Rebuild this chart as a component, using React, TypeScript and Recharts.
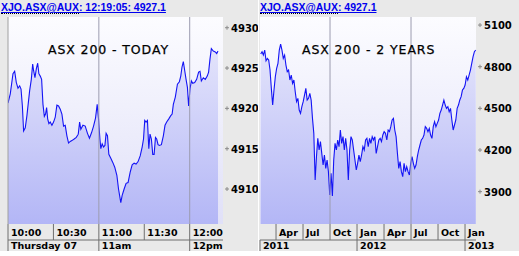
import React from 'react';
import { Area, AreaChart, CartesianGrid, ReferenceLine, XAxis, YAxis } from 'recharts';

// intraday: minutes after 10:00
const todayMinutes = [
  0, 1.5, 3.3, 4.4, 5.5, 6.6, 7.7, 8.6, 9.5, 10.3,
  11.4, 12.5, 14.3, 15.4, 16.3, 16.9, 17.8, 18.7, 19.6, 20.4,
  21.3, 22.2, 23.1, 24.0, 24.8, 25.5, 26.2, 27.0, 27.9, 29.0,
  30.1, 31.2, 32.3, 33.4, 34.5, 35.6, 36.7, 37.8, 38.9, 40.0,
  41.1, 42.2, 43.7, 45.1, 46.4, 47.3, 48.1, 49.5, 51.0, 52.5,
  53.8, 55.2, 56.5, 57.8, 58.9, 59.8, 60.7, 61.3, 62.2, 63.1,
  64.0, 64.8, 65.7, 66.6, 67.9, 69.2, 70.5, 71.9, 73.0, 74.5,
  75.4, 76.7, 78.0, 79.3, 80.7, 82.0, 83.3, 84.6, 85.9, 87.3,
  88.6, 89.5, 90.3, 91.2, 92.1, 93.0, 93.8, 94.7, 95.6, 96.5,
  97.4, 98.2, 99.1, 100.0, 101.3, 102.6, 103.7, 104.8, 106.2, 107.5,
  108.4, 109.2, 110.5, 111.9, 113.2, 114.1, 114.9, 115.8, 116.7, 117.6,
  118.5, 119.3, 120.2, 121.1, 122.0, 123.3, 124.6, 125.9, 126.8, 127.7,
  129.0, 130.3, 131.6, 132.5, 133.4, 134.3, 135.6, 136.9, 137.8, 138.7,
];
const todayValues = [
  4920.66, 4921.8, 4924.3, 4924.6, 4923.2, 4922.5, 4922.8, 4922.4, 4920.3, 4917.2,
  4917.6, 4919.1, 4922.2, 4923.6, 4925.5, 4924.7, 4923.8, 4924.9, 4925.6, 4924.3,
  4924.0, 4923.6, 4920.5, 4919.0, 4919.3, 4920.1, 4918.7, 4918.1, 4918.3, 4917.9,
  4918.3, 4918.9, 4920.4, 4920.3, 4919.9, 4919.3, 4917.8, 4917.9, 4916.6, 4915.7,
  4915.9, 4916.0, 4916.2, 4916.4, 4916.8, 4918.3, 4917.4, 4917.9, 4917.8, 4916.9,
  4916.3, 4917.0, 4917.8, 4918.8, 4920.5, 4918.7, 4916.2, 4915.0, 4915.6, 4915.2,
  4915.4, 4916.9, 4916.6, 4914.3, 4913.8, 4913.3, 4912.7, 4911.7, 4910.0, 4908.3,
  4909.2, 4910.0, 4910.7, 4910.8, 4912.1, 4913.0, 4913.2, 4913.1, 4913.4, 4914.1,
  4915.2, 4916.2, 4918.5, 4918.3, 4918.5, 4915.0, 4916.8, 4916.2, 4914.3, 4914.3,
  4916.4, 4916.2, 4915.5, 4915.4, 4915.5, 4916.6, 4917.9, 4918.3, 4918.7, 4919.1,
  4919.3, 4920.5, 4921.4, 4923.0, 4923.3, 4924.0, 4925.1, 4925.8, 4924.7, 4923.6,
  4922.6, 4920.3, 4922.4, 4923.4, 4923.1, 4923.2, 4923.6, 4924.5, 4924.6, 4923.4,
  4923.8, 4923.6, 4924.0, 4924.5, 4926.1, 4927.4, 4927.1, 4927.0, 4926.8, 4927.1,
];
const todayPriceTicks = [4910, 4915, 4920, 4925, 4930];
const todayTimeTicks = [0, 30, 60, 90, 120];
const todayTimeLabels = ['10:00', '10:30', '11:00', '11:30', '12:00'];
const todayDayTicks = [0, 60, 120];
const todayDayLabels = ['Thursday 07', '11am', '12pm'];
const todayGridLines = [60, 120];

// two years: months after Jan 2011, evenly spaced closes
const twoYearFirstMonth = 1.3;
const twoYearLastMonth = 25.19;
const twoYearValues = [
  4891, 4908, 4884, 4920, 4843, 4860, 4848, 4776, 4644, 4524,
  4632, 4728, 4788, 4824, 4920, 4963, 4920, 4860, 4884, 4812,
  4764, 4776, 4704, 4740, 4680, 4704, 4620, 4548, 4572, 4488,
  4464, 4512, 4548, 4596, 4644, 4560, 4572, 4608, 4560, 4428,
  4320, 3984, 4152, 4284, 4200, 4260, 4176, 4092, 4164, 4068,
  4128, 4044, 3876, 4032, 3869, 4128, 4248, 4200, 4272, 4224,
  4344, 4248, 4296, 4200, 4284, 4200, 3984, 4200, 4296, 4272,
  4200, 4128, 4056, 4104, 4164, 4116, 4164, 4224, 4200, 4272,
  4284, 4224, 4284, 4248, 4296, 4272, 4296, 4176, 4224, 4272,
  4284, 4260, 4308, 4332, 4320, 4272, 4344, 4332, 4368, 4416,
  4428, 4344, 4296, 4176, 4068, 4116, 4044, 4008, 4104, 4044,
  4080, 4044, 4020, 4104, 4152, 4104, 4068, 4092, 4152, 4200,
  4236, 4272, 4284, 4308, 4368, 4356, 4332, 4356, 4308, 4284,
  4368, 4404, 4368, 4392, 4416, 4464, 4488, 4524, 4560, 4524,
  4500, 4512, 4476, 4500, 4416, 4344, 4380, 4416, 4500, 4524,
  4560, 4584, 4632, 4644, 4668, 4728, 4704, 4740, 4776, 4824,
  4872, 4908, 4920,
];
const twoYearPriceTicks = [3900, 4200, 4500, 4800, 5100];
const twoYearMonthTicks = [3, 6, 9, 12, 15, 18, 21, 24];
const twoYearMonthLabels = ['Apr', 'Jul', 'Oct', 'Jan', 'Apr', 'Jul', 'Oct', 'Jan'];
const twoYearYearTicks = [1.22, 12, 24];
const twoYearYearLabels = ['2011', '2012', '2013'];
const twoYearGridLines = [9, 18];

const todayData = todayMinutes.map((t, i) => ({ t, v: todayValues[i] }));
const twoYearStep = (twoYearLastMonth - twoYearFirstMonth) / (twoYearValues.length - 1);
const twoYearData = twoYearValues.map((v, i) => ({ t: twoYearFirstMonth + i * twoYearStep, v }));

const GRAY = '#e9e9e9';
const SEP = '#6f6f6f';
const LABEL_FONT = "'DejaVu Sans', sans-serif";

function makeXTick(rowTicks: number[], rowLabels: string[], dayTicks: number[], dayLabels: string[], plotRight: number) {
  return (props: any) => {
    const { x, y, payload } = props;
    const i = rowTicks.indexOf(payload.value);
    const j = dayTicks.indexOf(payload.value);
    return (
      <g>
        {i >= 0 && (
          <g>
            <line x1={x} x2={x} y1={y} y2={y + 16} stroke={SEP} />
            <text x={x + 3} y={y + 12} fontFamily={LABEL_FONT} fontWeight="bold" fontSize={9.5} fill="#000">
              {rowLabels[i]}
            </text>
          </g>
        )}
        {j === 0 && <line x1={x} x2={plotRight} y1={y + 16} y2={y + 16} stroke={SEP} />}
        {j >= 0 && (
          <g>
            <line x1={x} x2={x} y1={y + 16} y2={y + 27} stroke={SEP} />
            <text x={x + 3} y={y + 25} fontFamily={LABEL_FONT} fontWeight="bold" fontSize={9.5} fill="#000">
              {dayLabels[j]}
            </text>
          </g>
        )}
      </g>
    );
  };
}

function PriceTick(props: any) {
  const { x, y, payload } = props;
  return (
    <g>
      <line x1={x + 2} x2={x + 6} y1={y} y2={y} stroke="#8a8a8a" />
      <line x1={x + 4} x2={x + 4} y1={y - 2} y2={y + 2} stroke="#8a8a8a" />
      <text x={x + 8} y={y + 4} fontFamily={LABEL_FONT} fontWeight="bold" fontSize={10} fill="#000">
        {payload.value}
      </text>
    </g>
  );
}

function Title({ lead, tail }: { lead: string; tail: string }) {
  return (
    <div
      style={{
        position: 'absolute', left: 1, top: 1, fontFamily: "'Liberation Sans', Arial, sans-serif",
        fontWeight: 'bold', fontSize: 10.5, color: '#0000ee', textDecoration: 'underline', whiteSpace: 'nowrap',
      }}
    >
      <span style={{ borderBottom: '1px dotted #000' }}>{lead}</span>
      {tail}
    </div>
  );
}

function Heading({ text, left }: { text: string; left: number }) {
  return (
    <div
      style={{
        position: 'absolute', left, top: 42, fontFamily: "'DejaVu Sans', sans-serif", fontSize: 12.5,
        letterSpacing: 0.9, color: '#000', whiteSpace: 'nowrap', pointerEvents: 'none',
        WebkitTextStroke: '0.25px #000',
      }}
    >
      {text}
    </div>
  );
}

function Gradients({ id }: { id: string }) {
  return (
    <defs>
      <linearGradient id={`${id}Bg`} x1="0" y1="0" x2="0" y2="1">
        <stop offset="0%" stopColor="#fcfcff" />
        <stop offset="100%" stopColor="#e0e0f8" />
      </linearGradient>
      <linearGradient id={`${id}Fill`} x1="0" y1="17" x2="0" y2="224" gradientUnits="userSpaceOnUse">
        <stop offset="0%" stopColor="#ececfc" />
        <stop offset="100%" stopColor="#b3b6f6" />
      </linearGradient>
    </defs>
  );
}

export default function App() {
  return (
    <div style={{ position: 'absolute', left: 0, top: 0, width: 519, height: 256, background: '#fff', overflow: 'hidden' }}>
      <div style={{ position: 'absolute', left: 0, top: 0, width: 258, height: 251, background: GRAY }} />
      <div style={{ position: 'absolute', left: 259, top: 0, width: 260, height: 251, background: GRAY }} />

      <div style={{ position: 'absolute', left: 0, top: 0 }}>
        <AreaChart width={258} height={256} data={todayData} margin={{ top: 17, right: 0, left: 8, bottom: 0 }}>
          <Gradients id="today" />
          <CartesianGrid horizontal={false} vertical={false} fill="url(#todayBg)" stroke="none" />
          <XAxis
            dataKey="t" type="number" domain={[0, 142]} allowDataOverflow height={32}
            ticks={[...todayTimeTicks]} interval={0} tickLine={false} axisLine={false} tickSize={0} tickMargin={0}
            tick={makeXTick(todayTimeTicks, todayTimeLabels, todayDayTicks, todayDayLabels, 223)}
          />
          <YAxis
            orientation="right" width={35} type="number" domain={[4905.66, 4931.33]} allowDataOverflow
            ticks={todayPriceTicks} interval={0} tickLine={false} axisLine={false} tickSize={0} tickMargin={0}
            tick={<PriceTick />}
          />
          <Area dataKey="v" type="linear" stroke="#1414f5" strokeWidth={1.1} fill="url(#todayFill)" fillOpacity={1} isAnimationActive={false} dot={false} activeDot={false} />
          {todayGridLines.map((g) => (
            <ReferenceLine key={g} x={g} stroke="#9c9cb0" strokeWidth={1} />
          ))}
          <ReferenceLine x={0} stroke="#a0a0a0" strokeWidth={1} />
        </AreaChart>
      </div>

      <div style={{ position: 'absolute', left: 259, top: 0 }}>
        <AreaChart width={260} height={256} data={twoYearData} margin={{ top: 17, right: 0, left: 1, bottom: 0 }}>
          <Gradients id="two" />
          <CartesianGrid horizontal={false} vertical={false} fill="url(#twoBg)" stroke="none" />
          <XAxis
            dataKey="t" type="number" domain={[1.22, 25.22]} allowDataOverflow height={32}
            ticks={[1.22, ...twoYearMonthTicks]} interval={0} tickLine={false} axisLine={false} tickSize={0} tickMargin={0}
            tick={makeXTick(twoYearMonthTicks, twoYearMonthLabels, twoYearYearTicks, twoYearYearLabels, 217)}
          />
          <YAxis
            orientation="right" width={43} type="number" domain={[3667, 5158]} allowDataOverflow
            ticks={twoYearPriceTicks} interval={0} tickLine={false} axisLine={false} tickSize={0} tickMargin={0}
            tick={<PriceTick />}
          />
          <Area dataKey="v" type="linear" stroke="#1414f5" strokeWidth={1.1} fill="url(#twoFill)" fillOpacity={1} isAnimationActive={false} dot={false} activeDot={false} />
          {twoYearGridLines.map((g) => (
            <ReferenceLine key={g} x={g} stroke="#9c9cb0" strokeWidth={1} />
          ))}
        </AreaChart>
      </div>

      <div style={{ position: 'absolute', left: 0, top: 0, width: 258, height: 17 }}>
        <Title lead="XJO.ASX@AUX" tail=": 12:19:05: 4927.1" />
      </div>
      <div style={{ position: 'absolute', left: 259, top: 0, width: 260, height: 17 }}>
        <Title lead="XJO.ASX@AUX" tail=": 4927.1" />
      </div>
      <Heading text="ASX 200 - TODAY" left={48} />
      <Heading text="ASX 200 - 2 YEARS" left={302} />
    </div>
  );
}
